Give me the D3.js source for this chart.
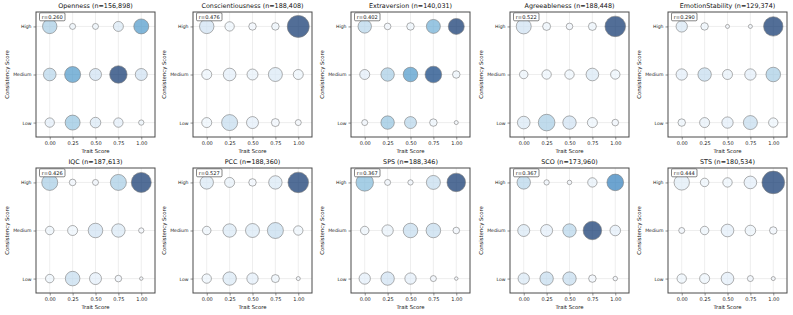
<!DOCTYPE html>
<html>
<head>
<meta charset="utf-8">
<script src="https://cdn.jsdelivr.net/npm/d3@7"></script>
<style>
  body { margin: 0; background: #fff; }
  svg { font-family: "DejaVu Sans", sans-serif; }
</style>
</head>
<body>
<script>
// panels, in reading order
const traits = ["Openness", "Conscientiousness", "Extraversion", "Agreeableness", "EmotionStability",
                "IQC", "PCC", "SPS", "SCO", "STS"];
const nLabels = ["156,898", "188,408", "140,031", "188,448", "129,374",
                 "187,613", "188,360", "188,346", "173,960", "180,534"];
const rLabels = ["0.260", "0.476", "0.402", "0.522", "0.290",
                 "0.426", "0.527", "0.367", "0.367", "0.444"];

const traitTicks = [0, 0.25, 0.5, 0.75, 1];
const levels = ["Low", "Medium", "High"];
const rowLevels = ["High", "Medium", "Low"];

// bubble size per cell, rows = High, Medium, Low; cols = trait score 0..1
const sizeVals = [
  [[52, 9, 9, 25, 56], [40, 64, 36, 76, 36], [22, 56, 28, 22, 7]],
  [[52, 22, 14, 14, 121], [25, 40, 30, 49, 25], [25, 64, 36, 16, 9]],
  [[45, 11, 14, 49, 64], [25, 45, 53, 69, 14], [9, 45, 36, 14, 4]],
  [[56, 16, 11, 16, 106], [18, 22, 22, 40, 22], [40, 69, 45, 25, 11]],
  [[32, 14, 4, 4, 94], [32, 45, 25, 32, 53], [14, 25, 32, 49, 22]],
  [[64, 11, 9, 64, 100], [18, 25, 53, 45, 7], [18, 53, 36, 11, 3]],
  [[45, 25, 14, 45, 106], [18, 45, 49, 64, 22], [22, 45, 32, 16, 4]],
  [[76, 9, 7, 49, 86], [18, 32, 53, 53, 11], [32, 45, 32, 9, 3]],
  [[45, 7, 5, 22, 69], [36, 36, 45, 86, 28], [32, 45, 45, 14, 5]],
  [[59, 18, 22, 40, 128], [9, 18, 40, 28, 14], [22, 25, 40, 9, 4]]
];

// colour intensity per cell (0 light .. 1 dark), same layout
const shadeVals = [
  [[0.35, 0.05, 0.05, 0.15, 0.6], [0.3, 0.6, 0.2, 1.0, 0.2], [0.1, 0.4, 0.15, 0.1, 0.05]],
  [[0.2, 0.05, 0.03, 0.05, 1.0], [0.05, 0.1, 0.08, 0.15, 0.05], [0.05, 0.25, 0.1, 0.03, 0.02]],
  [[0.3, 0.03, 0.05, 0.5, 1.0], [0.1, 0.35, 0.6, 0.95, 0.05], [0.03, 0.4, 0.3, 0.05, 0.02]],
  [[0.2, 0.05, 0.03, 0.05, 1.0], [0.05, 0.05, 0.05, 0.15, 0.05], [0.15, 0.35, 0.2, 0.05, 0.03]],
  [[0.15, 0.05, 0.02, 0.02, 1.0], [0.1, 0.25, 0.08, 0.1, 0.35], [0.05, 0.08, 0.1, 0.25, 0.05]],
  [[0.35, 0.03, 0.03, 0.35, 1.0], [0.05, 0.05, 0.2, 0.15, 0.02], [0.05, 0.25, 0.1, 0.03, 0.02]],
  [[0.15, 0.08, 0.03, 0.15, 1.0], [0.05, 0.15, 0.15, 0.25, 0.05], [0.05, 0.15, 0.1, 0.05, 0.02]],
  [[0.45, 0.03, 0.03, 0.25, 1.0], [0.05, 0.08, 0.25, 0.25, 0.03], [0.1, 0.2, 0.1, 0.03, 0.02]],
  [[0.3, 0.03, 0.02, 0.08, 0.7], [0.15, 0.1, 0.3, 1.0, 0.1], [0.15, 0.25, 0.25, 0.03, 0.02]],
  [[0.12, 0.05, 0.05, 0.1, 1.0], [0.03, 0.05, 0.1, 0.06, 0.03], [0.05, 0.05, 0.1, 0.03, 0.02]]
];

const W = 793, H = 315;
const colLeft = [36, 193, 351, 510, 668];
const rowTop = [12, 168];
const pw = 119, ph = 125;

const svg = d3.select("body").append("svg")
    .attr("width", W)
    .attr("height", H);

const x = d3.scaleLinear().domain([-0.15, 1.15]).range([0, pw]);
const yLin = d3.scaleLinear().domain([-0.3, 2.3]).range([ph, 0]);
const yPos = lv => yLin(levels.indexOf(lv));
const rScale = d3.scaleSqrt().domain([0, 130]).range([0, 11.4]);

traits.forEach((trait, i) => {
  const g = svg.append("g")
      .attr("transform", `translate(${colLeft[i % 5]},${rowTop[Math.floor(i / 5)]})`);

  // grid
  g.append("g").selectAll("line").data(traitTicks).join("line")
      .attr("x1", d => x(d)).attr("x2", d => x(d))
      .attr("y1", 0).attr("y2", ph)
      .attr("stroke", "#e3e3e3").attr("stroke-width", 0.6);
  g.append("g").selectAll("line").data(levels).join("line")
      .attr("x1", 0).attr("x2", pw)
      .attr("y1", d => yPos(d)).attr("y2", d => yPos(d))
      .attr("stroke", "#e3e3e3").attr("stroke-width", 0.6);

  // bubbles
  const cells = [];
  rowLevels.forEach((lv, ri) => {
    traitTicks.forEach((t, ci) => {
      cells.push({lv, t, size: sizeVals[i][ri][ci], shade: shadeVals[i][ri][ci]});
    });
  });
  g.append("g").selectAll("circle").data(cells).join("circle")
      .attr("cx", d => x(d.t))
      .attr("cy", d => yPos(d.lv))
      .attr("r", d => rScale(d.size))
      .attr("fill", d => d3.interpolateBlues(d.shade))
      .attr("fill-opacity", 0.7)
      .attr("stroke", "#7a7a7a")
      .attr("stroke-width", 0.6);

  // axes
  const xa = g.append("g").attr("transform", `translate(0,${ph})`)
      .call(d3.axisBottom(x).tickValues(traitTicks).tickFormat(d3.format(".2f")).tickSize(2.5).tickPadding(2));
  const ya = g.append("g")
      .call(d3.axisLeft(yLin).tickValues([0, 1, 2]).tickFormat(d => levels[d]).tickSize(2.5).tickPadding(2));
  [xa, ya].forEach(a => {
    a.select(".domain").remove();
    a.selectAll("line").attr("stroke", "#444").attr("stroke-width", 0.6);
    a.selectAll("text").attr("fill", "#222").style("font-size", "5px").style("font-family", "DejaVu Sans");
  });
  ya.selectAll("text").style("font-size", "4.6px");

  // frame
  g.append("rect").attr("width", pw).attr("height", ph)
      .attr("fill", "none").attr("stroke", "#4a4a4a").attr("stroke-width", 1);

  // r annotation
  const rb = g.append("g").attr("transform", "translate(3.5,0.8)");
  rb.append("rect").attr("width", 25.5).attr("height", 8).attr("rx", 1.2)
      .attr("fill", "#fff").attr("stroke", "#333").attr("stroke-width", 0.6);
  rb.append("text").attr("x", 12.75).attr("y", 5.8).attr("text-anchor", "middle")
      .style("font-size", "5.1px").attr("fill", "#111").text("r=" + rLabels[i]);

  // title and labels
  g.append("text").attr("x", pw / 2).attr("y", -3.8).attr("text-anchor", "middle")
      .style("font-size", "6.4px").attr("fill", "#111").text(`${trait} (n=${nLabels[i]})`);
  g.append("text").attr("x", pw / 2).attr("y", ph + 15.5).attr("text-anchor", "middle")
      .style("font-size", "5.3px").attr("fill", "#111").text("Trait Score");
  g.append("text").attr("transform", `translate(-27.5,${ph / 2}) rotate(-90)`)
      .attr("text-anchor", "middle")
      .style("font-size", "5.3px").attr("fill", "#111").text("Consistency Score");
});
</script>
</body>
</html>
